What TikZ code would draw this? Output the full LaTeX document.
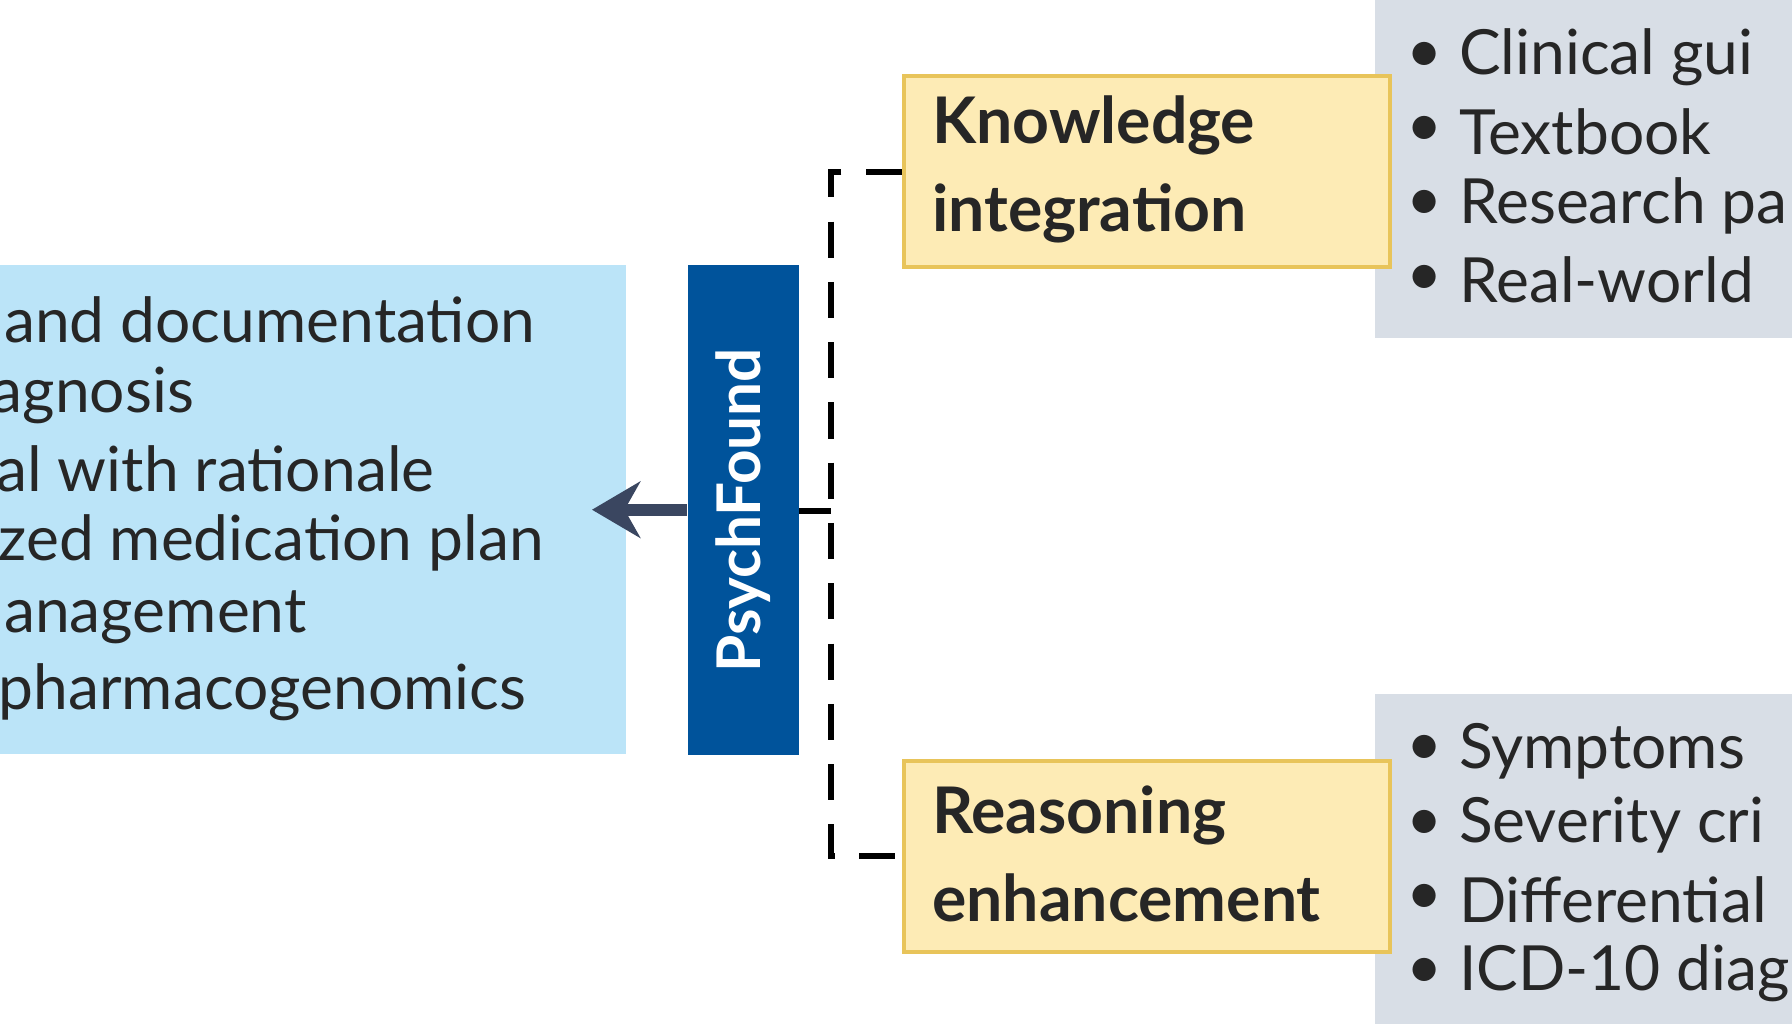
\documentclass[tikz,border=0pt]{standalone}
\usetikzlibrary{arrows.meta}
\usepackage{fontspec}
\setmainfont{Lato}
\definecolor{lblue}{RGB}{187,228,248}
\definecolor{dblue}{RGB}{0,83,155}
\definecolor{arr}{RGB}{58,70,96}
\definecolor{gbox}{RGB}{216,222,230}
\definecolor{yfill}{RGB}{253,235,181}
\definecolor{ydraw}{RGB}{232,196,90}
\begin{document}
\begin{tikzpicture}[x=0.01cm,y=-0.01cm,
 txt/.style={anchor=west,inner sep=0,font=\fontsize{15.5}{18}\selectfont,text=black!85},
 ybox/.style={draw=ydraw,fill=yfill,line width=1pt,anchor=north west,minimum width=4.25cm,minimum height=1.67cm,inner sep=0},
 ylab/.style={anchor=west,align=left,font=\fontsize{16}{22}\selectfont\bfseries,text=black!85,inner sep=0}]
\useasboundingbox (0,0) rectangle (1568,896);
\clip (0,0) rectangle (1568,896);
\fill[lblue] (0,232) rectangle (548,660);
\node[txt] (l1) at (3,280) {and documentation};
\node[txt] (l2) at (-8,346) {agnosis};
\node[txt] (l3) at (-4,410) {al with rationale};
\node[txt] (l4) at (-2,475) {zed medication plan};
\node[txt] (l5) at (3,540) {anagement};
\node[txt] (l6) at (-2,606) {pharmacogenomics};
\node[fill=dblue,anchor=north west,minimum width=0.97cm,minimum height=4.29cm,inner sep=0] (pf) at (601,231) {};
\node[rotate=90,text=white,font=\fontsize{15}{18}\selectfont\bfseries] at (pf.center) {PsychFound};
\coordinate (tip) at (518,446);
\draw[-{Stealth[length=12pt,width=14pt]},line width=3pt,draw=arr] (pf.west|-tip) -- (tip);
\fill[gbox] (1203,0) rectangle (1568,296);
\fill[gbox] (1203,607) rectangle (1568,896);
\node[ybox] (k) at (789,65) {};
\node[ybox] (r) at (789,664) {};
\node[ylab] at (815,148) {Knowledge\\integration};
\node[ylab] at (815,747) {Reasoning\\enhancement};
\coordinate (j) at (727,447);
\draw[line width=1.5pt,dash pattern=on 9pt off 6pt] (k.west) -| (j) |- (r.west);
\draw[line width=1.5pt] (pf.east|-j) -- (j);
\foreach \y/\t in {50/Clinical gui,115/Textbook/tr,180/Research pa,245/Real-world,657/Symptoms,722/Severity cri,787/Differential,852/ICD-10 diag}{
 \node[txt] at (1230,\y) {•};
 \node[txt] at (1276,\y) {\t};
}
\end{tikzpicture}
\end{document}
